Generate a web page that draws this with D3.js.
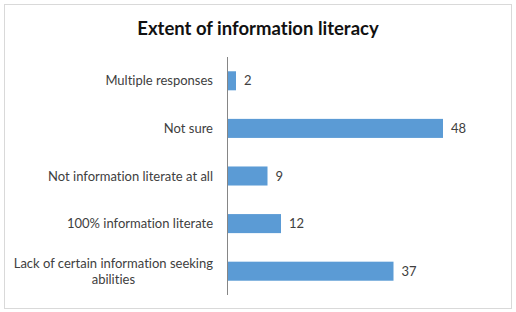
<!DOCTYPE html>
<html>
<head>
<meta charset="utf-8">
<script src="https://cdn.jsdelivr.net/npm/d3@7"></script>
<style>
  body { margin: 0; background: #fff; }
  text { font-family: Lato, "Open Sans", sans-serif; font-variant-ligatures: none; }
</style>
</head>
<body>
<div id="root"></div>
<script>
const categories = [
  ['Multiple responses'],
  ['Not sure'],
  ['Not information literate at all'],
  ['100% information literate'],
  ['Lack of certain information seeking', 'abilities']
];
const values = [2, 48, 9, 12, 37];
const title = 'Extent of information literacy';

const width = 516;
const height = 312;
const axisX = 227;
const plotTop = 57;
const plotBottom = 295;

const svg = d3.select('#root')
  .append('svg')
  .attr('width', width)
  .attr('height', height);

svg.append('rect')
  .attr('x', 4.5)
  .attr('y', 4.5)
  .attr('width', 507)
  .attr('height', 304)
  .attr('fill', '#fff')
  .attr('stroke', '#d9d9d9');

svg.append('text')
  .attr('x', 258)
  .attr('y', 35)
  .attr('text-anchor', 'middle')
  .attr('font-size', '18.5px')
  .attr('font-weight', 'bold')
  .attr('fill', '#111')
  .text(title);

const x = d3.scaleLinear()
  .domain([0, 48])
  .range([axisX, 443]);

const y = d3.scaleBand()
  .domain(d3.range(values.length))
  .range([plotTop, plotBottom])
  .paddingInner(0.6)
  .paddingOuter(0.3);

svg.selectAll('.bar')
  .data(values)
  .enter()
  .append('rect')
  .attr('class', 'bar')
  .attr('x', x(0))
  .attr('y', (_d, i) => y(i))
  .attr('width', (d) => x(d) - x(0))
  .attr('height', y.bandwidth())
  .attr('fill', '#5b9bd5');

svg.append('line')
  .attr('x1', axisX + 0.5)
  .attr('x2', axisX + 0.5)
  .attr('y1', plotTop)
  .attr('y2', plotBottom)
  .attr('stroke', '#868686');

svg.selectAll('.value')
  .data(values)
  .enter()
  .append('text')
  .attr('class', 'value')
  .attr('x', (d) => x(d) + 8)
  .attr('y', (_d, i) => y(i) + y.bandwidth() / 2)
  .attr('dy', '0.35em')
  .attr('font-size', '13px')
  .attr('fill', '#404040')
  .text((d) => d);

const labelRight = 213;
categories.forEach((lines, i) => {
  const cy = y(i) + y.bandwidth() / 2;
  const lineHeight = 16;
  const startY = cy - (lines.length - 1) * lineHeight / 2;
  const first = svg.append('text')
    .attr('x', labelRight)
    .attr('y', startY)
    .attr('dy', '0.35em')
    .attr('text-anchor', 'end')
    .attr('font-size', '13px')
    .attr('fill', '#404040')
    .text(lines[0]);
  if (lines.length > 1) {
    const w = first.node().getComputedTextLength();
    lines.slice(1).forEach((line, j) => {
      svg.append('text')
        .attr('x', labelRight - w / 2)
        .attr('y', startY + (j + 1) * lineHeight)
        .attr('dy', '0.35em')
        .attr('text-anchor', 'middle')
        .attr('font-size', '13px')
        .attr('fill', '#404040')
        .text(line);
    });
  }
});
</script>
</body>
</html>
